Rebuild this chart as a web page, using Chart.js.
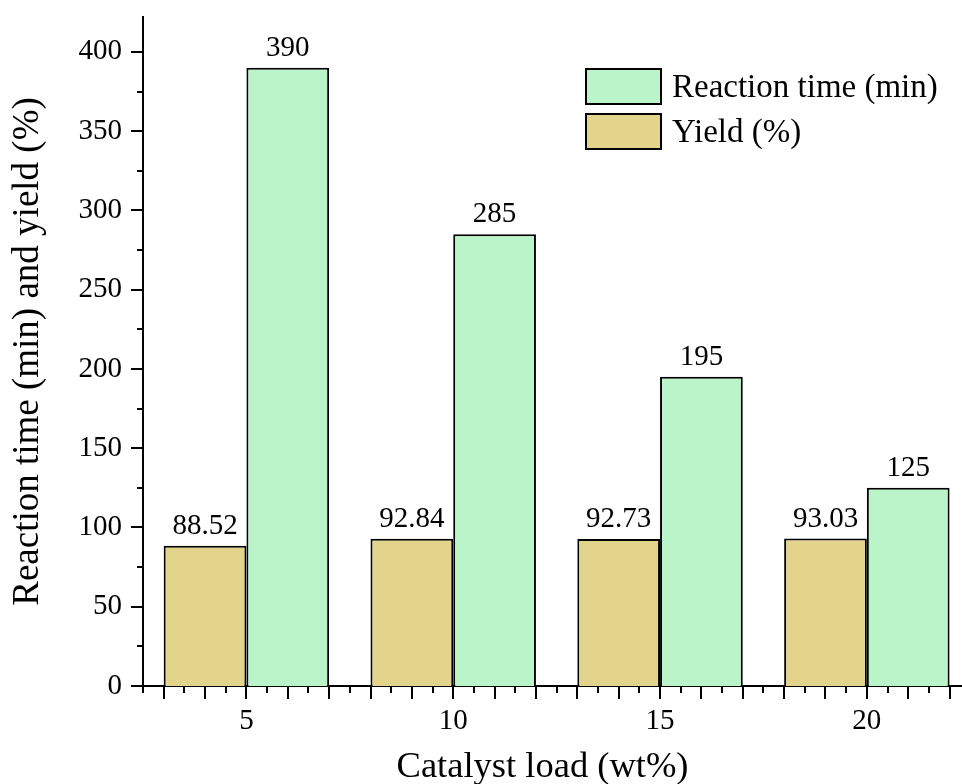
<!DOCTYPE html>
<html>
<head>
<meta charset="utf-8">
<script src="https://cdn.jsdelivr.net/npm/chart.js@4"></script>
<style>
  html, body { margin: 0; padding: 0; background: #fff; overflow: hidden; }
  #wrap { width: 962px; height: 784px; }
</style>
</head>
<body>
<div id="wrap"><canvas id="chart" width="962" height="784"></canvas></div>
<script>
const loads = [5, 10, 15, 20];
const yieldValues = [88.52, 92.84, 92.73, 93.03];
const timeValues = [390, 285, 195, 125];
const yieldLabels = ['88.52', '92.84', '92.73', '93.03'];
const timeLabels = ['390', '285', '195', '125'];
const xTickValues = [5, 10, 15, 20];
const yTickValues = [0, 50, 100, 150, 200, 250, 300, 350, 400];

const serif = "'Liberation Serif', 'Times New Roman', serif";
const greenFill = '#baf5ca';
const tanFill = '#e2d48a';

// minor/major ticks, value labels, x title and legend drawn on top
const decorations = {
    id: 'decorations',
    afterDraw(chart) {
        const ctx = chart.ctx;
        const xs = chart.scales.x;
        const ys = chart.scales.y;
        const area = chart.chartArea;
        ctx.save();
        ctx.strokeStyle = '#000';
        ctx.lineWidth = 2;
        ctx.beginPath();
        for (let v = 0; v <= 400; v += 25) {
            const py = Math.round(ys.getPixelForValue(v));
            const len = v % 50 === 0 ? 12 : 6;
            ctx.moveTo(area.left, py);
            ctx.lineTo(area.left - len, py);
        }
        for (let v = 2.5; v <= xs.max; v += 0.5) {
            const px = Math.round(xs.getPixelForValue(v));
            const len = Number.isInteger(v) ? 13 : 7;
            ctx.moveTo(px, area.bottom);
            ctx.lineTo(px, area.bottom + len);
        }
        ctx.stroke();

        // value labels
        ctx.fillStyle = '#000';
        ctx.font = '29px ' + serif;
        ctx.textAlign = 'center';
        ctx.textBaseline = 'alphabetic';
        const labelSets = [yieldLabels, timeLabels];
        chart.data.datasets.forEach((ds, i) => {
            chart.getDatasetMeta(i).data.forEach((bar, j) => {
                ctx.fillText(labelSets[i][j], bar.x, bar.y - 12);
            });
        });

        // x axis title (sits a little left of the axis centre)
        ctx.font = '36.5px ' + serif;
        ctx.fillText('Catalyst load (wt%)', (area.left + area.right) / 2 - 10, 777);

        // legend (reaction time first)
        const order = [1, 0];
        const boxLeft = area.right - 376;
        ctx.font = '33px ' + serif;
        ctx.textAlign = 'left';
        ctx.textBaseline = 'middle';
        order.forEach((di, k) => {
            const ds = chart.data.datasets[di];
            const top = 69 + k * 45;
            ctx.fillStyle = ds.backgroundColor;
            ctx.fillRect(boxLeft, top, 75, 35);
            ctx.lineWidth = 2;
            ctx.strokeRect(boxLeft, top, 75, 35);
            ctx.fillStyle = '#000';
            ctx.fillText(ds.label, boxLeft + 86, top + 19);
        });
        ctx.restore();
    }
};

new Chart(document.getElementById('chart'), {
    type: 'bar',
    data: {
        datasets: [
            {
                label: 'Yield (%)',
                data: loads.map((x, i) => ({ x: x, y: yieldValues[i] })),
                backgroundColor: tanFill,
                borderColor: '#000',
                borderWidth: 2,
                categoryPercentage: 0.8,
                barPercentage: 1.0
            },
            {
                label: 'Reaction time (min)',
                data: loads.map((x, i) => ({ x: x, y: timeValues[i] })),
                backgroundColor: greenFill,
                borderColor: '#000',
                borderWidth: 2,
                categoryPercentage: 0.8,
                barPercentage: 1.0
            }
        ]
    },
    plugins: [decorations],
    options: {
        responsive: false,
        animation: false,
        layout: { padding: { top: 17, right: 0, left: 0, bottom: 0 } },
        plugins: {
            legend: { display: false },
            tooltip: { enabled: false }
        },
        scales: {
            x: {
                type: 'linear',
                min: 2.5,
                max: 22.3,
                offset: false,
                afterBuildTicks: (scale) => {
                    scale.ticks = xTickValues.map(v => ({ value: v }));
                },
                afterFit: (scale) => {
                    scale.height = 98;
                    scale.paddingLeft = 0;
                    scale.paddingRight = 0;
                },
                grid: { display: false, drawTicks: true, tickLength: 13 },
                border: { display: true, color: '#000', width: 2 },
                ticks: {
                    color: '#000',
                    font: { family: serif, size: 29 },
                    padding: 5,
                    maxRotation: 0,
                    autoSkip: false
                },
                title: { display: false }
            },
            y: {
                min: 0,
                max: 422,
                afterBuildTicks: (scale) => {
                    scale.ticks = yTickValues.map(v => ({ value: v }));
                },
                afterFit: (scale) => {
                    scale.width = 143;
                    scale.paddingTop = 0;
                    scale.paddingBottom = 0;
                },
                grid: { display: false, drawTicks: true, tickLength: 12 },
                border: { display: true, color: '#000', width: 2 },
                ticks: {
                    color: '#000',
                    font: { family: serif, size: 29 },
                    padding: 9
                },
                title: {
                    display: true,
                    text: 'Reaction time (min) and yield (%)',
                    color: '#000',
                    font: { family: serif, size: 37, lineHeight: 1.2 },
                    padding: { top: 6, bottom: 0 }
                }
            }
        }
    }
});
</script>
</body>
</html>
